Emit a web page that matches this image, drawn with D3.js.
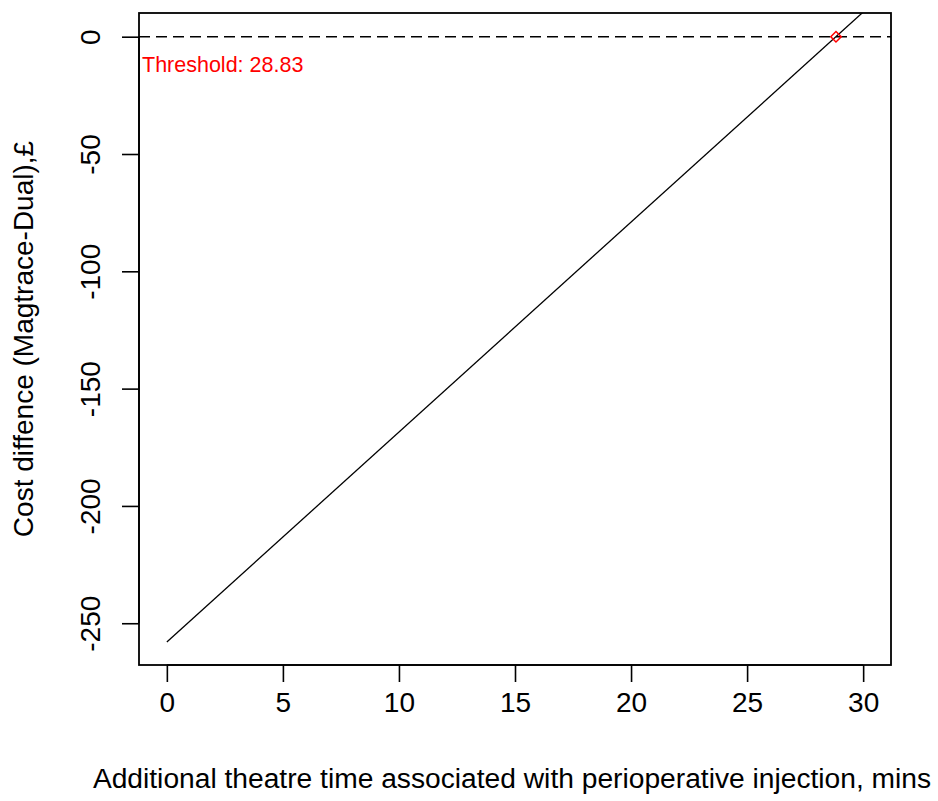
<!DOCTYPE html>
<html>
<head>
<meta charset="utf-8">
<script src="https://cdn.jsdelivr.net/npm/d3@7"></script>
<style>
  body { margin: 0; background: #fff; }
  text { font-family: "Liberation Sans", Arial, sans-serif; }
</style>
</head>
<body>
<script>
// additional theatre time (mins) vs cost difference (GBP)
const minutes = [0, 30];
const costDiff = [-258, 10.5];
const threshold = 28.83;
const xTicks = [0, 5, 10, 15, 20, 25, 30];
const yTicks = [0, -50, -100, -150, -200, -250];

const W = 938, H = 801;
const box = {left: 139, right: 891, top: 13, bottom: 665};

const svg = d3.select("body").append("svg")
   .attr("width", W)
   .attr("height", H);

svg.append("rect").attr("width", W).attr("height", H).attr("fill", "#fff");

const x = d3.scaleLinear()
   .domain([-1.2, 31.2])
   .range([box.left, box.right]);
const y = d3.scaleLinear()
   .domain([-267.8, 10.1])
   .range([box.bottom, box.top]);

svg.append("clipPath").attr("id", "plotclip")
   .append("rect")
   .attr("x", box.left).attr("y", box.top)
   .attr("width", box.right - box.left).attr("height", box.bottom - box.top);

// plain hyphen minus like R
const fmt = d => String(d);

// x axis
const xAxis = svg.append("g")
   .attr("transform", "translate(0," + box.bottom + ")")
   .call(d3.axisBottom(x).tickValues(xTicks).tickSize(17).tickPadding(10).tickFormat(fmt));
xAxis.select(".domain")
   .attr("d", "M" + x(0) + ",0H" + x(30));
xAxis.selectAll("text").attr("font-size", 28).attr("fill", "#000").attr("font-family", "Liberation Sans, Arial, sans-serif");

// y axis, labels rotated like R
const yAxis = svg.append("g")
   .attr("transform", "translate(" + box.left + ",0)")
   .call(d3.axisLeft(y).tickValues(yTicks).tickSize(17).tickFormat(fmt));
yAxis.select(".domain")
   .attr("d", "M0," + y(0) + "V" + y(-250));
yAxis.selectAll(".tick text")
   .attr("x", 0).attr("dy", null)
   .attr("transform", "translate(-39,0) rotate(-90)")
   .attr("text-anchor", "middle")
   .attr("font-size", 28).attr("fill", "#000")
   .attr("font-family", "Liberation Sans, Arial, sans-serif");
svg.selectAll(".tick line").attr("stroke", "#000").attr("stroke-width", 1.6);
svg.selectAll(".domain").attr("stroke", "#000").attr("stroke-width", 1.6);

// plot box
svg.append("rect")
   .attr("x", box.left).attr("y", box.top)
   .attr("width", box.right - box.left).attr("height", box.bottom - box.top)
   .attr("fill", "none").attr("stroke", "#000").attr("stroke-width", 1.8);

// zero reference line
svg.append("line")
   .attr("x1", box.left).attr("x2", box.right)
   .attr("y1", y(0)).attr("y2", y(0))
   .attr("stroke", "#000").attr("stroke-width", 1.6)
   .attr("stroke-dasharray", "11,6");

// cost line
const pts = minutes.map((m, i) => [m, costDiff[i]]);
svg.append("path")
   .datum(pts)
   .attr("clip-path", "url(#plotclip)")
   .attr("d", d3.line().x(d => x(d[0])).y(d => y(d[1])))
   .attr("fill", "none").attr("stroke", "#000").attr("stroke-width", 1.3);

// threshold marker
svg.append("path")
   .attr("d", d3.symbol().type(d3.symbolSquare).size(55))
   .attr("transform", "translate(" + x(threshold) + "," + y(0) + ") rotate(45)")
   .attr("fill", "none").attr("stroke", "#ff0000").attr("stroke-width", 1.5);

svg.append("text")
   .attr("x", 142).attr("y", 72)
   .attr("font-size", 21.5).attr("fill", "#ff0000")
   .text("Threshold: " + threshold);

// axis titles
svg.append("text")
   .attr("x", 512).attr("y", 788)
   .attr("text-anchor", "middle").attr("font-size", 28.2).attr("fill", "#000")
   .text("Additional theatre time associated with perioperative injection, mins");

svg.append("text")
   .attr("transform", "translate(33," + (box.top + box.bottom) / 2 + ") rotate(-90)")
   .attr("text-anchor", "middle").attr("font-size", 28).attr("fill", "#000")
   .text("Cost diffence (Magtrace-Dual),£");
</script>
</body>
</html>
